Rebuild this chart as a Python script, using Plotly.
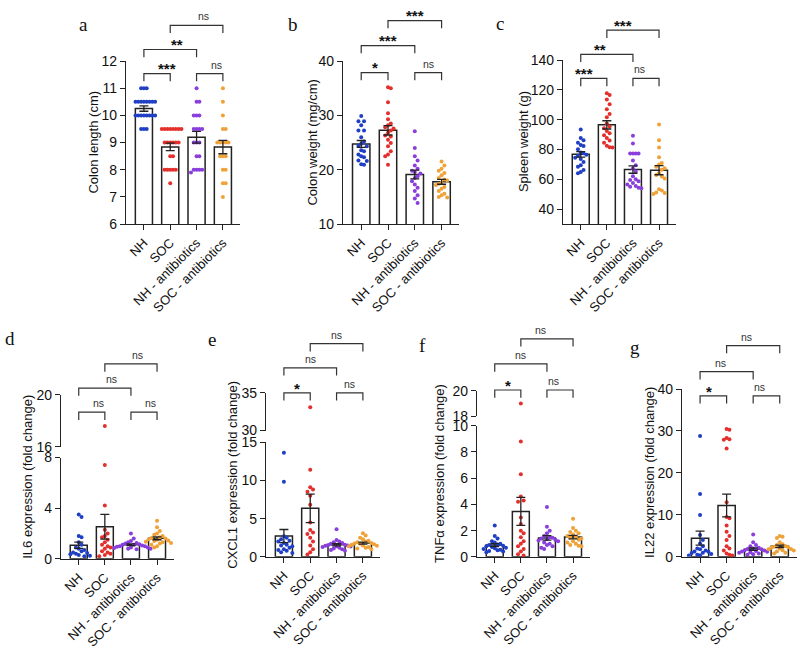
import numpy as np
import plotly.graph_objects as go

# ---------------- data ----------------
groups = ["NH", "SOC", "NH - antibiotics", "SOC - antibiotics"]
colors = ["#1f3fc4", "#e3302c", "#8a3fdc", "#eea238"]

colon_length = [
    [11, 11, 11] + [10.5] * 8 + [10] * 8 + [9.5] * 3,
    [9.5] * 8 + [9] * 6 + [8.5] * 2 + [8] * 5 + [7.5],
    [11, 10.5, 10.5, 10, 10, 10, 9.5, 9.5, 9.5, 9.5, 9, 9, 9, 8.5, 8.5, 8, 8, 8, 8, 7.9],
    [11, 10.5, 10, 9.5, 9.5, 9, 9, 9, 9, 9, 8.5, 8.5, 8.5, 8, 8, 7.5, 7.5, 7],
]
colon_weight = [
    [29.9, 28.9, 28.9, 28.2, 27.2, 27.2, 26.0, 25.2, 24.8, 24.4, 24.3, 23.6, 23.4, 22.8, 22.5, 22.3, 21.7, 21.6, 21.0, 20.9],
    [35.2, 35.0, 32.4, 30.4, 29.3, 28.5, 28.2, 27.8, 27.6, 27.2, 26.8, 26.3, 26.1, 25.5, 24.9, 24.3, 23.4, 22.8, 22.5, 20.9],
    [27.1, 24.0, 22.5, 21.7, 20.8, 20.2, 19.8, 19.6, 19.3, 18.8, 18.5, 17.9, 17.3, 16.7, 16.1, 15.3, 14.7, 13.9],
    [21.5, 20.8, 20.2, 19.8, 19.4, 19.0, 18.5, 18.2, 18.0, 17.6, 17.4, 17.2, 16.8, 16.5, 16.1, 15.6, 15.3, 15.0, 14.9],
]
spleen_weight = [
    [93.5, 87.7, 86.3, 84.5, 83.0, 82.4, 80.2, 78.0, 77.5, 76.5, 75.9, 74.5, 73.7, 71.6, 69.5, 68.4, 66.2, 65.0, 64.1],
    [117.8, 116.5, 113.5, 110.3, 107.1, 103.9, 101.7, 97.4, 95.5, 94.2, 92.5, 91.0, 89.5, 87.7, 86.0, 84.5, 82.5, 81.5, 81.3],
    [89.2, 84.1, 77.4, 77.4, 77.4, 77.4, 72.7, 69.5, 67.3, 65.2, 62.0, 60.0, 59.5, 58.7, 57.5, 56.6, 55.0, 54.4, 54.0, 55.5],
    [96.8, 86.3, 81.3, 74.8, 71.0, 70.0, 68.4, 67.5, 66.5, 64.1, 63.0, 61.9, 60.5, 53.3, 52.5, 51.2, 50.8, 50.1],
]
il6 = [
    [3.5, 3.3, 1.8, 1.7, 1.3, 1.1, 0.9, 0.8, 0.7, 0.6, 0.5, 0.45, 0.4, 0.35, 0.3, 0.25, 0.2],
    [17.6, 7.4, 4.2, 2.3, 2.0, 1.8, 1.7, 1.5, 1.3, 1.1, 1.0, 0.9, 0.8, 0.6, 0.5, 0.4, 0.3, 0.2],
    [2.0, 1.6, 1.4, 1.3, 1.25, 1.2, 1.15, 1.1, 1.1, 1.05, 1.0, 1.0, 0.95, 0.9, 0.9, 0.85, 0.8, 0.8, 0.75],
    [3.0, 2.5, 2.2, 2.0, 1.9, 1.8, 1.7, 1.65, 1.6, 1.55, 1.5, 1.45, 1.4, 1.35, 1.3, 1.25, 1.2, 1.1, 1.0, 0.9],
]
cxcl1 = [
    [13.6, 9.8, 2.7, 2.5, 2.3, 2.1, 2.0, 1.8, 1.6, 1.5, 1.4, 1.2, 1.0, 0.9, 0.8, 0.6, 0.5],
    [33.1, 11.4, 9.1, 8.8, 8.5, 8.0, 6.8, 4.5, 3.2, 3.5, 3.0, 2.5, 2.0, 1.5, 1.0, 0.6, 0.3],
    [3.6, 2.2, 2.0, 1.9, 1.8, 1.7, 1.6, 1.55, 1.5, 1.45, 1.4, 1.35, 1.3, 1.2, 1.1, 1.0, 0.9, 0.8],
    [3.1, 2.8, 2.5, 2.3, 2.1, 2.0, 1.9, 1.8, 1.75, 1.7, 1.65, 1.6, 1.5, 1.45, 1.4, 1.3, 1.2, 1.1, 1.0],
]
tnfa = [
    [2.4, 1.6, 1.4, 1.2, 1.1, 1.0, 0.95, 0.9, 0.85, 0.8, 0.75, 0.7, 0.65, 0.6, 0.55, 0.5, 0.45, 0.4, 0.35],
    [19.0, 8.8, 6.3, 4.6, 4.3, 4.2, 3.0, 2.5, 2.0, 1.8, 1.5, 1.2, 1.0, 0.8, 0.6, 0.4, 0.2, 0.1],
    [3.8, 2.3, 2.0, 1.8, 1.6, 1.5, 1.45, 1.4, 1.35, 1.3, 1.25, 1.2, 1.1, 1.0, 0.9, 0.8, 0.7, 0.6],
    [2.9, 2.2, 2.0, 1.9, 1.8, 1.7, 1.6, 1.5, 1.45, 1.4, 1.3, 1.2, 1.1, 1.0, 0.9, 0.85, 0.8],
]
il22 = [
    [28.8, 15.0, 10.0, 5.2, 4.0, 3.2, 2.5, 2.0, 1.8, 1.5, 1.3, 1.2, 1.0, 0.9, 0.7, 0.5, 0.4, 0.3],
    [30.5, 30.3, 28.3, 28.0, 27.9, 25.8, 13.0, 9.5, 9.2, 7.5, 6.0, 5.0, 4.0, 2.5, 2.0, 1.5, 0.8, 0.5, 0.3],
    [5.3, 3.5, 2.8, 2.5, 2.2, 2.0, 1.9, 1.8, 1.6, 1.5, 1.4, 1.3, 1.2, 1.1, 1.0, 0.8, 0.6, 0.5],
    [5.0, 4.8, 4.5, 3.5, 3.0, 2.8, 2.6, 2.4, 2.3, 2.2, 2.0, 1.9, 1.8, 1.6, 1.5, 1.3, 1.0, 0.8],
]

y_titles = ["Colon length (cm)", "Colon weight (mg/cm)", "Spleen weight (g)",
            "IL6 expression (fold change)", "CXCL1 expression (fold change)",
            "TNFα expression (fold change)", "IL22 expression (fold change)"]
letters = ["a", "b", "c", "d", "e", "f", "g"]
pairs = [(0, 1), (2, 3), (0, 2), (1, 3)]
sig_labels = [
    ["***", "ns", "**", "ns"],
    ["*", "ns", "***", "***"],
    ["***", "ns", "**", "***"],
    ["ns", "ns", "ns", "ns"],
    ["*", "ns", "ns", "ns"],
    ["*", "ns", "ns", "ns"],
    ["*", "ns", "ns", "ns"],
]
datasets = [colon_length, colon_weight, spleen_weight, il6, cxcl1, tnfa, il22]

# ---------------- layout (pixel geometry) ----------------
W, H = 800, 650
XMIN, XMAX = -0.68, 3.65
panels = [
    dict(x0=126, x1=240, segs=[dict(top=55, bot=224, rng=[6, 12], ticks=[6, 7, 8, 9, 10, 11, 12])],
         levels=[68, 68, 43, 18], title_x=94, letter=(83, 17)),
    dict(x0=343, x1=459, segs=[dict(top=55, bot=224, rng=[10, 40], ticks=[10, 20, 30, 40])],
         levels=[67, 67, 39, 13], title_x=313, letter=(293, 17)),
    dict(x0=563, x1=676, segs=[dict(top=54, bot=224, rng=[30, 140], ticks=[40, 60, 80, 100, 120, 140])],
         levels=[73, 73, 48, 23], title_x=523, letter=(500, 16)),
    dict(x0=61, x1=174, segs=[dict(top=401, bot=455, rng=[16, 20], ticks=[16, 20]),
                              dict(top=466, bot=571, rng=[0, 8], ticks=[0, 4, 8])],
         levels=[419, 419, 394, 369], title_x=28, letter=(10, 343)),
    dict(x0=266, x1=380, segs=[dict(top=399, bot=438, rng=[30, 35], ticks=[30, 35]),
                               dict(top=450, bot=569, rng=[0, 15], ticks=[0, 5, 10, 15])],
         levels=[399, 399, 373, 348], title_x=233, letter=(212, 344)),
    dict(x0=477, x1=590, segs=[dict(top=397, bot=423, rng=[18, 20], ticks=[18, 20]),
                               dict(top=433, bot=569, rng=[0, 10], ticks=[0, 2, 4, 6, 8, 10])],
         levels=[396, 396, 369, 343], title_x=440, letter=(422, 350)),
    dict(x0=682, x1=797, segs=[dict(top=395, bot=569, rng=[0, 40], ticks=[0, 10, 20, 30, 40])],
         levels=[402, 402, 377, 350], title_x=650, letter=(635, 352)),
]

FONT = "Liberation Sans, Arial, sans-serif"
AXC = "#222222"


def px2x(px):
    return px / W


def px2y(py):
    return 1 - py / H


def swarm(vals, ppu, ppc, sx=2.8, sy=6.0):
    vals = np.asarray(vals, float)
    order = np.argsort(-vals)
    placed = []
    offs = np.zeros(len(vals))
    for i in order:
        y = vals[i] * ppu
        k = 0
        while True:
            step = (k + 1) // 2
            c = step * sx * (1 if k % 2 else -1) if k else 0.0
            ok = all(abs(c - px) >= sx - 1e-9 or abs(y - py) >= sy for px, py in placed)
            if ok:
                break
            k += 1
        placed.append((c, y))
        offs[i] = c / ppc
    return offs


fig = go.Figure()
lay = {}
shapes = []
annots = []
xi = 0
yi = 0


def axkey(letter, i):
    return f"{letter}axis" if i == 1 else f"{letter}axis{i}"


def axref(letter, i):
    return letter if i == 1 else f"{letter}{i}"


for p, data, ttl, let, labs in zip(panels, datasets, y_titles, letters, sig_labels):
    xi += 1
    segs = p["segs"]
    ids = []
    for s in segs:
        yi += 1
        ids.append(yi)
    low = segs[-1]
    ppu = (low["bot"] - low["top"]) / (low["rng"][1] - low["rng"][0])
    ppc = (p["x1"] - p["x0"]) / (XMAX - XMIN)
    lay[axkey("x", xi)] = dict(
        domain=[px2x(p["x0"]), px2x(p["x1"])], range=[XMIN, XMAX], anchor=axref("y", ids[-1]),
        tickmode="array", tickvals=[0, 1, 2, 3], ticktext=groups, tickangle=-45,
        showline=True, linecolor=AXC, linewidth=1.3, ticks="outside", ticklen=5, tickwidth=1.3,
        tickcolor=AXC, showgrid=False, zeroline=False, fixedrange=True,
        tickfont=dict(family=FONT, size=13, color="#111"))
    means = [float(np.mean(g)) for g in data]
    sems = [float(np.std(g, ddof=1) / np.sqrt(len(g))) for g in data]
    offsets = [swarm(g, ppu, ppc) for g in data]
    for k, (s, yid) in enumerate(zip(segs, ids)):
        lay[axkey("y", yid)] = dict(
            domain=[px2y(s["bot"]), px2y(s["top"])], range=s["rng"], anchor=axref("x", xi),
            tickmode="array", tickvals=s["ticks"], showline=True, linecolor=AXC, linewidth=1.3,
            ticks="outside", ticklen=5, tickwidth=1.3, tickcolor=AXC, showgrid=False,
            zeroline=False, fixedrange=True, tickfont=dict(family=FONT, size=14, color="#111"))
        xr, yr = axref("x", xi), axref("y", yid)
        if k == len(segs) - 1:
            fig.add_trace(go.Bar(x=[0, 1, 2, 3], y=means, width=0.65, xaxis=xr, yaxis=yr,
                                 marker=dict(color="white", line=dict(color=AXC, width=1.5)),
                                 showlegend=False, hoverinfo="skip"))
        for gi, g in enumerate(data):
            fig.add_trace(go.Scatter(x=gi + offsets[gi], y=g, mode="markers", xaxis=xr, yaxis=yr,
                                     marker=dict(size=4, color=colors[gi]), showlegend=False,
                                     cliponaxis=True, hoverinfo="skip"))
        if k == len(segs) - 1:
            fig.add_trace(go.Scatter(x=[0, 1, 2, 3], y=means, mode="markers", xaxis=xr, yaxis=yr,
                                     marker=dict(size=1, color="rgba(0,0,0,0)"),
                                     error_y=dict(type="data", array=sems, color=AXC, thickness=1.3, width=4.5),
                                     showlegend=False, hoverinfo="skip"))

    def cx(c):
        return p["x0"] + (c - XMIN) / (XMAX - XMIN) * (p["x1"] - p["x0"])

    for (i, j), lab, lev in zip(pairs, labs, p["levels"]):
        xa, xb = px2x(cx(i)), px2x(cx(j))
        yt, yd = px2y(lev), px2y(lev + 8)
        shapes.append(dict(type="path", xref="paper", yref="paper",
                           path=f"M {xa},{yd} L {xa},{yt} L {xb},{yt} L {xb},{yd}",
                           line=dict(color="#333", width=1.2)))
        if lab == "ns":
            annots.append(dict(x=(xa + xb) / 2, y=px2y(lev - 2), xref="paper", yref="paper",
                               text="ns", showarrow=False, yanchor="bottom", borderpad=0,
                               font=dict(family=FONT, size=10.5, color="#333")))
        else:
            annots.append(dict(x=(xa + xb) / 2, y=px2y(lev + 5), xref="paper", yref="paper",
                               text=f"<b>{lab}</b>", showarrow=False, yanchor="bottom", borderpad=0,
                               font=dict(family=FONT, size=15, color="#111")))
    ymid = (segs[0]["top"] + segs[-1]["bot"]) / 2
    annots.append(dict(x=px2x(p["title_x"]), y=px2y(ymid), xref="paper", yref="paper",
                       text=ttl, textangle=-90, showarrow=False, xanchor="center", yanchor="middle",
                       font=dict(family=FONT, size=13, color="#111")))
    annots.append(dict(x=px2x(p["letter"][0]), y=px2y(p["letter"][1]), xref="paper", yref="paper",
                       text=let, showarrow=False, xanchor="center", yanchor="middle",
                       font=dict(family="Liberation Serif, Times New Roman, serif", size=19, color="#111")))

fig.update_layout(width=W, height=H, autosize=False, margin=dict(l=0, r=0, t=0, b=0),
                  paper_bgcolor="white", plot_bgcolor="white", showlegend=False,
                  barmode="overlay", shapes=shapes, annotations=annots, **lay)
fig.write_html("out.html", config={"displayModeBar": False},
               post_script="document.body.style.margin='0';document.body.style.overflow='hidden';"
                           "document.documentElement.style.overflow='hidden';")
